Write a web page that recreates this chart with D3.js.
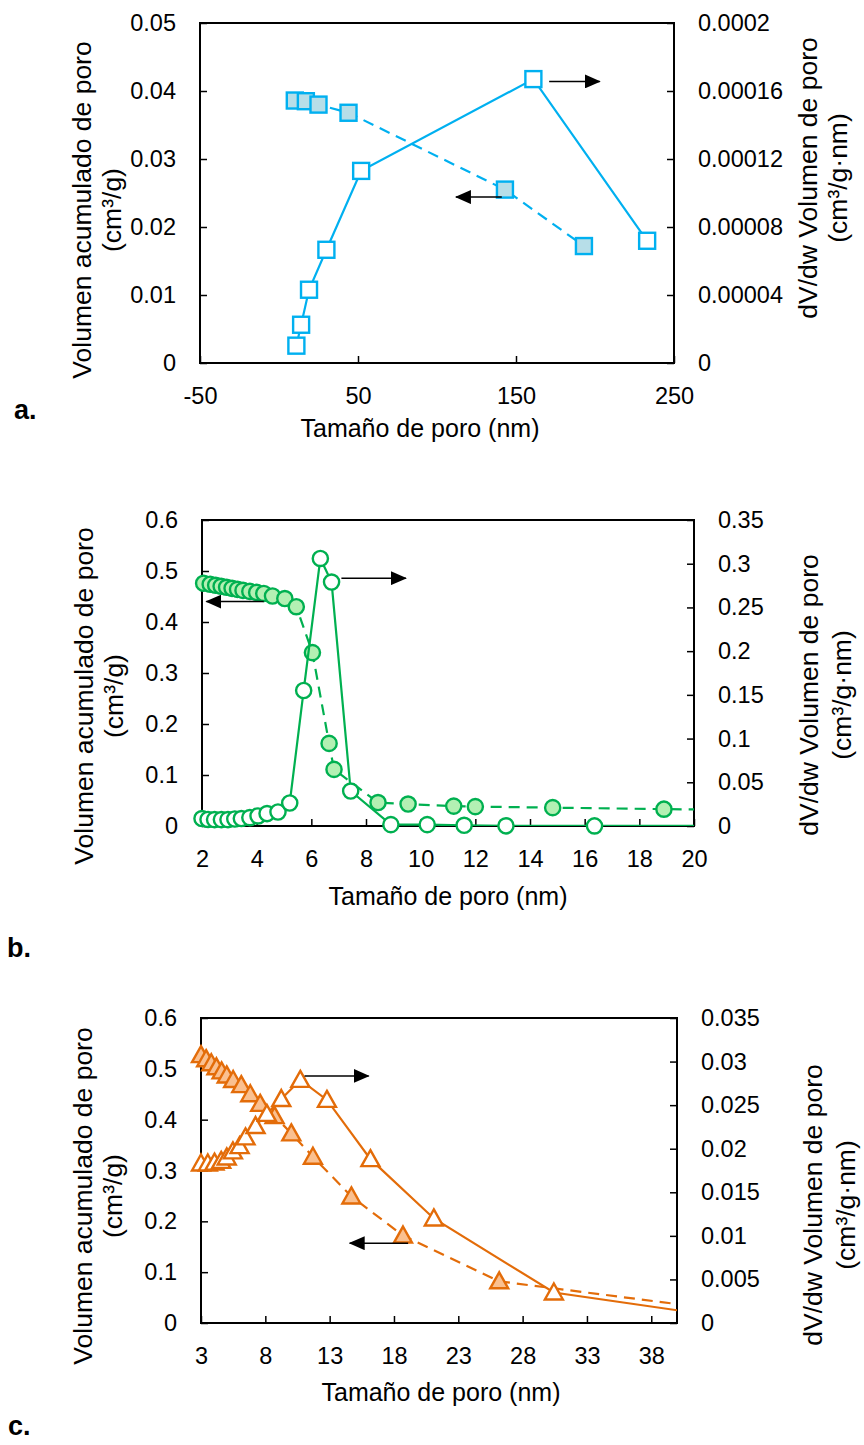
<!DOCTYPE html>
<html>
<head>
<meta charset="utf-8">
<script src="https://cdn.jsdelivr.net/npm/d3@7"></script>
<style>
  body { margin: 0; background: #fff; }
  text { font-family: "Liberation Sans", Arial, sans-serif; }
</style>
</head>
<body>
<svg id="chart" width="864" height="1445"></svg>
<script>
// ---- panel a: blue squares ----
const aCumSize = [10, 17, 25, 44, 143, 193];
const aCumVol = [0.0386, 0.0385, 0.0380, 0.0368, 0.0255, 0.0172];
const aDifSize = [11, 14, 19, 30, 52, 161, 233];
const aDifVol = [0.0000102, 0.0000225, 0.0000431, 0.0000666, 0.000113, 0.000167, 0.0000719];
const aXTicks = [-50, 50, 150, 250];
const aYLeftTicks = [0, 0.01, 0.02, 0.03, 0.04, 0.05];
const aYRightTicks = [0, 0.00004, 0.00008, 0.00012, 0.00016, 0.0002];
const aArrows = [[171, 0.0414, 203, 0.0414], [141, 0.0244, 112, 0.0244]];

// ---- panel b: green circles ----
const bCumSize = [2.06, 2.3, 2.5, 2.7, 2.9, 3.1, 3.3, 3.5, 3.75, 4.0, 4.26, 4.58, 5.03, 5.45, 6.04, 6.65, 6.83, 8.44, 9.54, 11.21, 12.0, 14.83, 18.9, 24];
const bCumVol = [0.476, 0.474, 0.472, 0.470, 0.468, 0.466, 0.464, 0.462, 0.460, 0.458, 0.456, 0.451, 0.446, 0.430, 0.340, 0.162, 0.111, 0.046, 0.043, 0.039, 0.038, 0.036, 0.033, 0.031];
const bDifSize = [2.0, 2.22, 2.46, 2.71, 2.95, 3.2, 3.44, 3.75, 4.05, 4.38, 4.78, 5.21, 5.72, 6.33, 6.74, 7.44, 8.91, 10.24, 11.59, 13.12, 16.36, 24];
const bDifVol = [0.0085, 0.0075, 0.0073, 0.0073, 0.0073, 0.008, 0.0085, 0.0096, 0.0115, 0.0142, 0.016, 0.0263, 0.155, 0.306, 0.279, 0.040, 0.0016, 0.0016, 0.0008, 0.0002, 0.0001, 0];
const bXTicks = [2, 4, 6, 8, 10, 12, 14, 16, 18, 20];
const bYLeftTicks = [0, 0.1, 0.2, 0.3, 0.4, 0.5, 0.6];
const bYRightTicks = [0, 0.05, 0.1, 0.15, 0.2, 0.25, 0.3, 0.35];
const bArrows = [[4.26, 0.44, 2.16, 0.44], [7.1, 0.486, 9.46, 0.486]];

// ---- panel c: orange triangles ----
const cCumSize = [3.0, 3.4, 3.8, 4.2, 4.6, 5.0, 5.5, 6.13, 6.83, 7.6, 8.72, 10.02, 11.7, 14.69, 18.7, 26.18, 45];
const cCumVol = [0.527, 0.519, 0.511, 0.503, 0.495, 0.487, 0.478, 0.468, 0.450, 0.431, 0.407, 0.373, 0.327, 0.249, 0.172, 0.082, 0.021];
const cDifSize = [3.0, 3.53, 4.05, 4.57, 5.0, 5.48, 6.0, 6.46, 7.24, 8.12, 9.24, 10.72, 12.79, 16.17, 21.1, 30.43, 45];
const cDifVol = [0.0183, 0.0183, 0.0184, 0.0186, 0.019, 0.0197, 0.0203, 0.0213, 0.0226, 0.024, 0.0257, 0.0279, 0.0256, 0.0188, 0.0120, 0.0035, 0.0004];
const cXTicks = [3, 8, 13, 18, 23, 28, 33, 38];
const cYLeftTicks = [0, 0.1, 0.2, 0.3, 0.4, 0.5, 0.6];
const cYRightTicks = [0, 0.005, 0.01, 0.015, 0.02, 0.025, 0.03, 0.035];
const cArrows = [[11.05, 0.486, 16.03, 0.486], [19.1, 0.157, 14.56, 0.157]];

const svg = d3.select("#chart");
const fmt = d => String(+d.toFixed(6));

svg.append("defs").append("marker")
    .attr("id", "head")
    .attr("viewBox", "0 0 16 14")
    .attr("refX", 15).attr("refY", 7)
    .attr("markerWidth", 16).attr("markerHeight", 14)
    .attr("markerUnits", "userSpaceOnUse")
    .attr("orient", "auto")
  .append("path")
    .attr("d", "M0,0L16,7L0,14Z")
    .attr("fill", "#000");

function marker(g, shape, color, fill) {
    if (shape === "square") {
        g.append("rect").attr("x", -8).attr("y", -8).attr("width", 16).attr("height", 16)
            .attr("fill", fill).attr("stroke", color).attr("stroke-width", 2.4);
    } else if (shape === "circle") {
        g.append("circle").attr("r", 7.6)
            .attr("fill", fill).attr("stroke", color).attr("stroke-width", 2.4);
    } else {
        g.append("path").attr("d", "M0,-9L9,7L-9,7Z")
            .attr("fill", fill).attr("stroke", color).attr("stroke-width", 2.4)
            .attr("stroke-linejoin", "miter");
    }
}

function panel(p) {
    const x = d3.scaleLinear().domain(p.xDomain).range([p.left, p.right]);
    const yL = d3.scaleLinear().domain([0, p.yLeftTicks[p.yLeftTicks.length - 1]]).range([p.bottom, p.top]);
    const yR = d3.scaleLinear().domain([0, p.yRightTicks[p.yRightTicks.length - 1]]).range([p.bottom, p.top]);

    const clipId = "clip-" + p.id;
    svg.append("clipPath").attr("id", clipId)
      .append("rect")
        .attr("x", p.left).attr("y", p.top)
        .attr("width", p.right - p.left).attr("height", p.bottom - p.top);

    const styleAxis = g => {
        g.select(".domain").remove();
        g.selectAll("line").attr("stroke", "#000").attr("stroke-width", 1.5);
        g.selectAll("text").attr("font-size", 23.5).attr("fill", "#000")
            .attr("font-family", "'Liberation Sans', Arial, sans-serif");
    };

    svg.append("g").attr("transform", `translate(0,${p.bottom})`)
        .call(d3.axisBottom(x).tickValues(p.xTicks).tickSize(-7).tickPadding(24).tickFormat(d => String(d)))
        .call(styleAxis);
    svg.append("g").attr("transform", `translate(${p.left},0)`)
        .call(d3.axisLeft(yL).tickValues(p.yLeftTicks).tickSize(-7).tickPadding(24).tickFormat(fmt))
        .call(styleAxis);
    svg.append("g").attr("transform", `translate(${p.right},0)`)
        .call(d3.axisRight(yR).tickValues(p.yRightTicks).tickSize(-7).tickPadding(24).tickFormat(fmt))
        .call(styleAxis);

    svg.append("rect")
        .attr("x", p.left).attr("y", p.top)
        .attr("width", p.right - p.left).attr("height", p.bottom - p.top)
        .attr("fill", "none").attr("stroke", "#000").attr("stroke-width", 2);

    const cum = p.cumSize.map((s, i) => [s, p.cumVol[i]]);
    const dif = p.difSize.map((s, i) => [s, p.difVol[i]]);
    const inside = d => d[0] >= p.xDomain[0] - 1e-9 && d[0] <= p.xDomain[1];

    // cumulative: dashed line, filled markers
    svg.append("path")
        .datum(cum)
        .attr("clip-path", `url(#${clipId})`)
        .attr("d", d3.line().x(d => x(d[0])).y(d => yL(d[1])))
        .attr("fill", "none").attr("stroke", p.color).attr("stroke-width", 2.2)
        .attr("stroke-dasharray", "11,7");
    svg.append("g").selectAll("g")
        .data(cum.filter(inside))
        .join("g")
        .attr("transform", d => `translate(${x(d[0])},${yL(d[1])})`)
        .each(function () { marker(d3.select(this), p.shape, p.color, p.fill); });

    // differential: solid line, open markers
    svg.append("path")
        .datum(dif)
        .attr("clip-path", `url(#${clipId})`)
        .attr("d", d3.line().x(d => x(d[0])).y(d => yR(d[1])))
        .attr("fill", "none").attr("stroke", p.color).attr("stroke-width", 2.2);
    svg.append("g").selectAll("g")
        .data(dif.filter(inside))
        .join("g")
        .attr("transform", d => `translate(${x(d[0])},${yR(d[1])})`)
        .each(function () { marker(d3.select(this), p.shape, p.color, "#fff"); });

    // arrows
    svg.append("g").selectAll("line")
        .data(p.arrows)
        .join("line")
        .attr("x1", d => x(d[0])).attr("y1", d => yL(d[1]))
        .attr("x2", d => x(d[2])).attr("y2", d => yL(d[3]))
        .attr("stroke", "#000").attr("stroke-width", 1.5)
        .attr("marker-end", "url(#head)");

    // titles
    const t = svg.append("g").attr("font-size", 26.5).attr("fill", "#000");
    t.append("text").attr("text-anchor", "middle")
        .attr("transform", `translate(${p.lt[0]},${p.lt[2]}) rotate(-90)`)
        .text("Volumen acumulado de poro");
    t.append("text").attr("text-anchor", "middle")
        .attr("transform", `translate(${p.lt[1]},${p.lt[2]}) rotate(-90)`)
        .text("(cm³/g)");
    t.append("text").attr("text-anchor", "middle")
        .attr("transform", `translate(${p.rt[0]},${p.rt[2]}) rotate(-90)`)
        .text("dV/dw Volumen de poro");
    t.append("text").attr("text-anchor", "middle")
        .attr("transform", `translate(${p.rt[1]},${p.rt[2]}) rotate(-90)`)
        .text("(cm³/g·nm)");
    t.append("text").attr("text-anchor", "middle")
        .attr("font-size", 25)
        .attr("x", p.xt[0]).attr("y", p.xt[1])
        .text("Tamaño de poro (nm)");

    svg.append("text")
        .attr("x", p.label[1]).attr("y", p.label[2])
        .attr("font-family", "'Liberation Serif', 'Times New Roman', serif")
        .attr("font-weight", "bold").attr("font-size", 27)
        .text(p.label[0]);
}

panel({
    id: "a", left: 200, right: 674, top: 23, bottom: 363,
    xDomain: [-50, 250], xTicks: aXTicks, yLeftTicks: aYLeftTicks, yRightTicks: aYRightTicks,
    cumSize: aCumSize, cumVol: aCumVol, difSize: aDifSize, difVol: aDifVol, arrows: aArrows,
    shape: "square", color: "#00B0F0", fill: "#B7DEE8",
    lt: [91, 121, 210], rt: [817, 847, 178], xt: [420, 437], label: ["a.", 14, 419]
});
panel({
    id: "b", left: 202, right: 694, top: 520, bottom: 826,
    xDomain: [2, 20], xTicks: bXTicks, yLeftTicks: bYLeftTicks, yRightTicks: bYRightTicks,
    cumSize: bCumSize, cumVol: bCumVol, difSize: bDifSize, difVol: bDifVol, arrows: bArrows,
    shape: "circle", color: "#00B050", fill: "#B3F0B3",
    lt: [93, 123, 696], rt: [818, 851, 695], xt: [448, 905], label: ["b.", 7, 957]
});
panel({
    id: "c", left: 201, right: 677, top: 1018, bottom: 1323,
    xDomain: [3, 40], xTicks: cXTicks, yLeftTicks: cYLeftTicks, yRightTicks: cYRightTicks,
    cumSize: cCumSize, cumVol: cCumVol, difSize: cDifSize, difVol: cDifVol, arrows: cArrows,
    shape: "triangle", color: "#E36C09", fill: "#FAC090",
    lt: [92, 122, 1196], rt: [822, 855, 1205], xt: [441, 1401], label: ["c.", 8, 1435]
});
</script>
</body>
</html>
